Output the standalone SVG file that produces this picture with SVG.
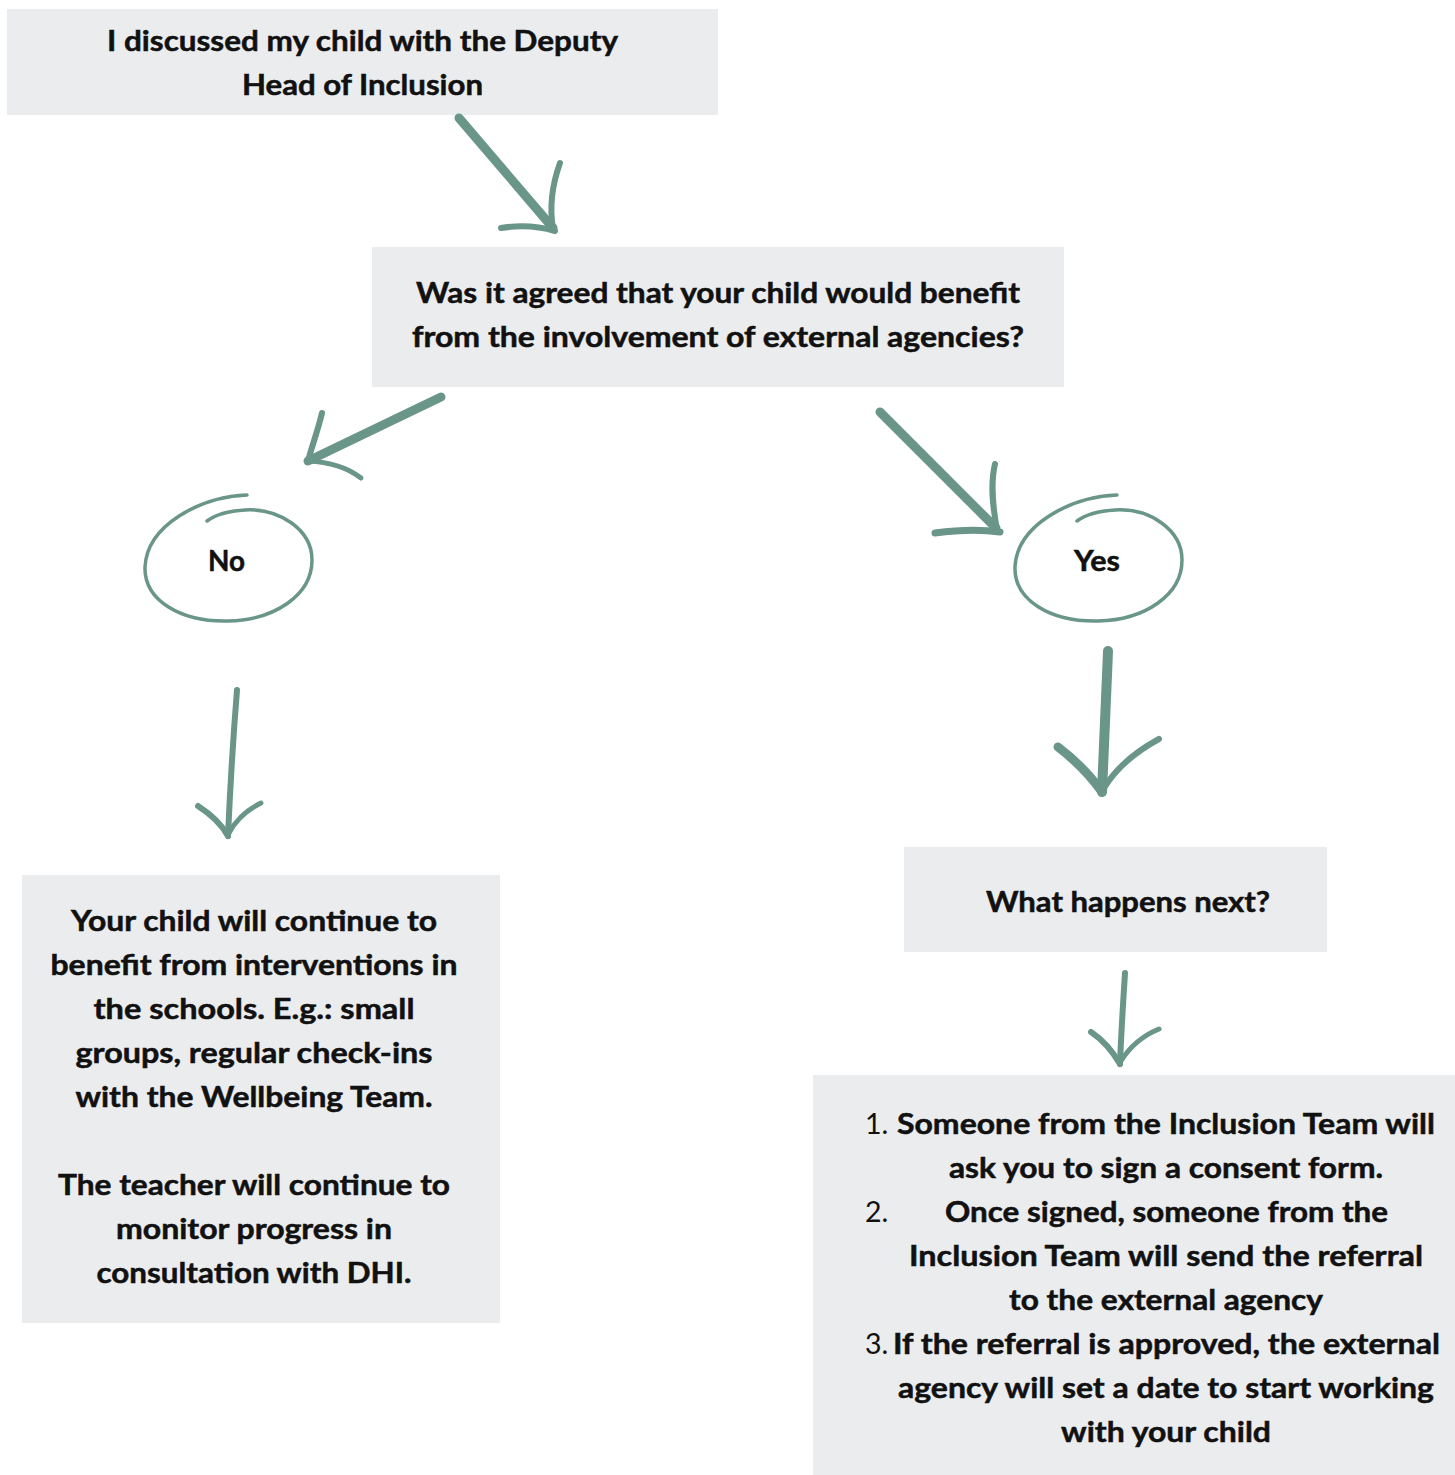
<svg xmlns="http://www.w3.org/2000/svg" width="1455" height="1475" viewBox="0 0 1455 1475">
<style>
.box{fill:#ebecee}
.t{font-family:Lato,"Liberation Sans",sans-serif;font-weight:700;font-size:28.5px;fill:#111;stroke:#111;stroke-width:0.5;text-anchor:middle}
.n{font-family:Lato,"Liberation Sans",sans-serif;font-weight:400;font-size:28.5px;fill:#111}
.br{fill:none;stroke:#6a9589;stroke-linecap:round;stroke-linejoin:round}
.ring{fill:none;stroke:#6a9589;stroke-width:3.5;stroke-linecap:round}
</style>
<rect width="1455" height="1475" fill="#fff"/>
<g id="node-discussed">
<rect class="box" x="7" y="9" width="711" height="106"/>
<text class="t" x="362.5" y="51" textLength="511" lengthAdjust="spacingAndGlyphs">I discussed my child with the Deputy</text>
<text class="t" x="362.5" y="95" textLength="241" lengthAdjust="spacingAndGlyphs">Head of Inclusion</text>
</g>
<g id="node-question">
<rect class="box" x="372" y="247" width="692" height="140"/>
<text class="t" x="718" y="303" textLength="604" lengthAdjust="spacingAndGlyphs">Was it agreed that your child would benefit</text>
<text class="t" x="718" y="347" textLength="612" lengthAdjust="spacingAndGlyphs">from the involvement of external agencies?</text>
</g>
<g id="node-no">
<path class="ring" d="M247,495 C200,497 147,525 145,567 C144,600 180,622 228,621 C275,620 312,595 312,560 C312,530 280,508 245,510 C228,511 215,515 207,521"/>
<text class="t" x="226.5" y="571" textLength="37" lengthAdjust="spacingAndGlyphs">No</text>
</g>
<g id="node-yes">
<path class="ring" d="M1117,495 C1070,497 1017,525 1015,567 C1014,600 1050,622 1098,621 C1145,620 1182,595 1182,560 C1182,530 1150,508 1115,510 C1098,511 1085,515 1077,521"/>
<text class="t" x="1097" y="571" textLength="46" lengthAdjust="spacingAndGlyphs">Yes</text>
</g>
<g id="node-continue">
<rect class="box" x="22" y="875" width="478" height="448"/>
<text class="t" x="254" y="931" textLength="366" lengthAdjust="spacingAndGlyphs">Your child will continue to</text>
<text class="t" x="254" y="975" textLength="407" lengthAdjust="spacingAndGlyphs">benefit from interventions in</text>
<text class="t" x="254" y="1019" textLength="321" lengthAdjust="spacingAndGlyphs">the schools. E.g.: small</text>
<text class="t" x="254" y="1063" textLength="357" lengthAdjust="spacingAndGlyphs">groups, regular check-ins</text>
<text class="t" x="254" y="1107" textLength="357" lengthAdjust="spacingAndGlyphs">with the Wellbeing Team.</text>
<text class="t" x="254" y="1195" textLength="392" lengthAdjust="spacingAndGlyphs">The teacher will continue to</text>
<text class="t" x="254" y="1239" textLength="276" lengthAdjust="spacingAndGlyphs">monitor progress in</text>
<text class="t" x="254" y="1283" textLength="315" lengthAdjust="spacingAndGlyphs">consultation with DHI.</text>
</g>
<g id="node-next">
<rect class="box" x="904" y="847" width="423" height="105"/>
<text class="t" x="1128" y="912" textLength="284" lengthAdjust="spacingAndGlyphs">What happens next?</text>
</g>
<g id="node-steps">
<rect class="box" x="813" y="1075" width="642" height="400"/>
<text class="n" x="865" y="1134">1.</text>
<text class="t" x="1166" y="1134" textLength="538" lengthAdjust="spacingAndGlyphs">Someone from the Inclusion Team will</text>
<text class="t" x="1166" y="1178" textLength="434" lengthAdjust="spacingAndGlyphs">ask you to sign a consent form.</text>
<text class="n" x="865" y="1222">2.</text>
<text class="t" x="1166.5" y="1222" textLength="443" lengthAdjust="spacingAndGlyphs">Once signed, someone from the</text>
<text class="t" x="1166" y="1266" textLength="514" lengthAdjust="spacingAndGlyphs">Inclusion Team will send the referral</text>
<text class="t" x="1166" y="1310" textLength="314" lengthAdjust="spacingAndGlyphs">to the external agency</text>
<text class="n" x="865" y="1354">3.</text>
<text class="t" x="1166.5" y="1354" textLength="547" lengthAdjust="spacingAndGlyphs">If the referral is approved, the external</text>
<text class="t" x="1166" y="1398" textLength="536" lengthAdjust="spacingAndGlyphs">agency will set a date to start working</text>
<text class="t" x="1166" y="1442" textLength="210" lengthAdjust="spacingAndGlyphs">with your child</text>
</g>
<g id="connectors">
<g id="c-discussed-question">
<path class="br" stroke-width="9" d="M459,118 L553,228"/>
<path class="br" stroke-width="6" d="M560,163 C552,185 549,205 553,229"/>
<path class="br" stroke-width="6" d="M501,228 C520,225 538,226 555,231"/>
</g>
<g id="c-question-no">
<path class="br" stroke-width="9" d="M441,397 L308,461"/>
<path class="br" stroke-width="6" d="M322,413 C318,430 312,446 308,461"/>
<path class="br" stroke-width="5" d="M308,461 C330,462 348,468 361,478"/>
</g>
<g id="c-question-yes">
<path class="br" stroke-width="9" d="M880,412 L996,528"/>
<path class="br" stroke-width="6" d="M995,464 C990,485 993,508 997,530"/>
<path class="br" stroke-width="7" d="M935,533 C957,530 980,529 1000,532"/>
</g>
<g id="c-no-continue">
<path class="br" stroke-width="6" d="M237,690 C233,740 230,790 228,836"/>
<path class="br" stroke-width="6" d="M198,806 C212,815 222,825 228,836"/>
<path class="br" stroke-width="5" d="M261,803 C247,810 236,820 229,833"/>
</g>
<g id="c-yes-next">
<path class="br" stroke-width="10" d="M1108,651 C1106,700 1104,750 1102,792"/>
<path class="br" stroke-width="9" d="M1058,747 C1075,760 1090,775 1102,792"/>
<path class="br" stroke-width="6" d="M1159,739 C1135,752 1115,770 1104,788"/>
</g>
<g id="c-next-steps">
<path class="br" stroke-width="6" d="M1125,973 C1123,1005 1121,1035 1120,1064"/>
<path class="br" stroke-width="6" d="M1091,1032 C1103,1040 1113,1052 1120,1064"/>
<path class="br" stroke-width="5" d="M1159,1029 C1142,1036 1129,1048 1121,1061"/>
</g>
</g>
</svg>
